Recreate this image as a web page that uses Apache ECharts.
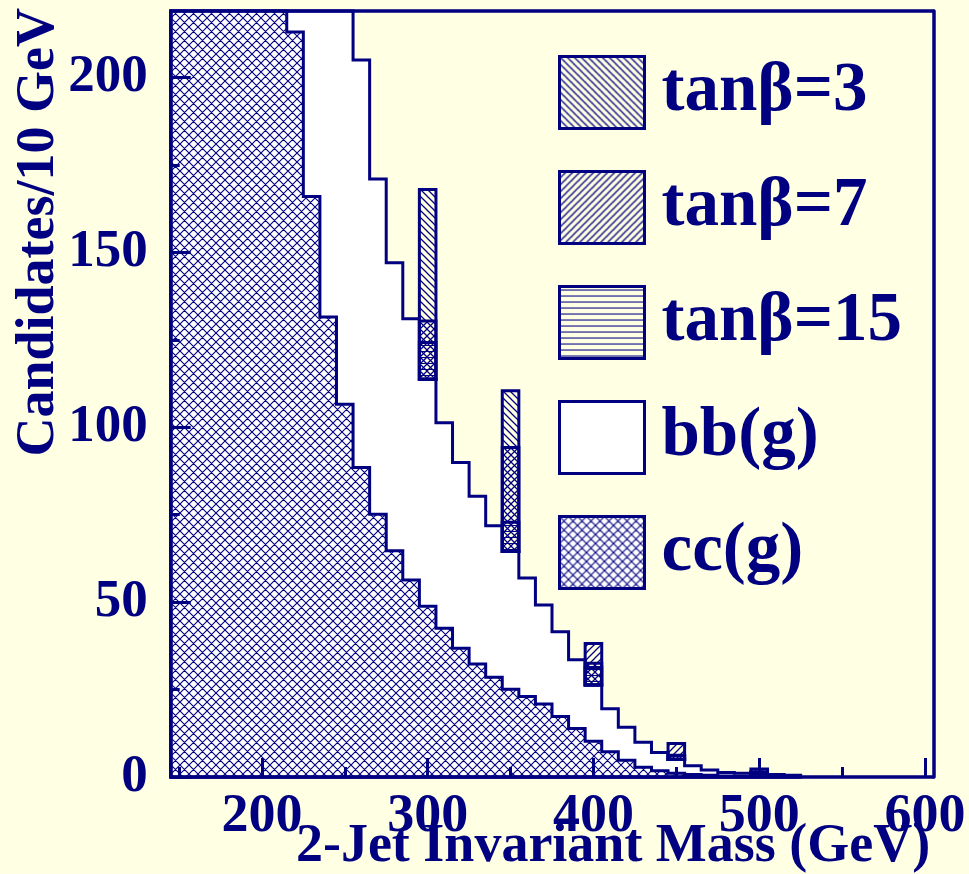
<!DOCTYPE html>
<html>
<head>
<meta charset="utf-8">
<script src="https://cdn.jsdelivr.net/npm/echarts@6/dist/echarts.min.js"></script>
<style>
html,body{margin:0;padding:0;background:#FFFFE4;}
#chart{width:969px;height:874px;}
</style>
</head>
<body>
<div id="chart"></div>
<script>
// ---------------- data ----------------
const binCenters = [150,160,170,180,190,200,210,220,230,240,250,260,270,280,290,300,310,320,330,340,350,360,370,380,390,400,410,420,430,440,450,460,470,480,490,500,510,520];
// cc(g) contribution per 10 GeV bin (values above the frame are off scale estimates)
const ccValues = [380,420,450,460,430,360,275,213,166,131.5,106.6,88.5,75.1,64.7,56.3,48.8,42.5,36.8,32.3,28.5,25.1,23.0,20.9,17.3,13.9,10.2,7.2,4.8,2.8,1.8,1.1,0.7,0.5,0.3,0.2,0.1,0.1,0.0];
// bb(g) contribution per bin (stacked on cc)
const bbValues = [500,520,520,500,460,420,360,290,240,185,150,116.5,95.9,82.3,74.7,64.9,58.8,53.1,48.0,43.3,39.4,33.9,28.3,24.2,19.6,16.1,12.3,9.4,7.1,5.2,3.9,2.5,1.5,1.0,0.9,0.9,0.6,0.5];
// signal peaks (stacked on bb+cc)
const signalMass = [300,350,400,450,500];
const tan3Values = [54.3,45.9,6.2,1.2,0.4];
const tan7Values = [16.7,29.7,11.9,4.6,1.3];
const tan15Values = [10.5,8.3,5.0,1.0,0.4];
const xMajorTicks = [200,300,400,500,600];
const xMinorTicks = [150,250,350,450,550];
const yMajorTicks = [0,50,100,150,200];
const yMinorTicks = [25,75,125,175];
const seriesNames = ['tanβ=3','tanβ=7','tanβ=15','bb(g)','cc(g)'];

// ---------------- styles ----------------
const NAVY = '#000080';
const BG = '#FFFFE4';
const X_MIN = 145, X_MAX = 605, Y_MIN = 0, Y_MAX = 219;
const binHalf = 5;

function makeTile(size, bg, lw, draw) {
  const c = document.createElement('canvas');
  c.width = size; c.height = size;
  const ctx = c.getContext('2d');
  if (bg) { ctx.fillStyle = bg; ctx.fillRect(0, 0, size, size); }
  ctx.strokeStyle = NAVY; ctx.lineWidth = lw;
  ctx.beginPath();
  draw(ctx, size);
  ctx.stroke();
  return c;
}
function fwd(ctx, s) { for (let k = 0; k <= 2; k++) { ctx.moveTo(-1, k * s + 1); ctx.lineTo(k * s + 1, -1); } }
function back(ctx, s) { for (let k = -1; k <= 1; k++) { ctx.moveTo(-1, -1 + k * s); ctx.lineTo(s + 1, s + 1 + k * s); } }
function horiz(ctx, s) { ctx.moveTo(0, s / 2 + 0.5); ctx.lineTo(s, s / 2 + 0.5); }
function pattern(canvas) { return { type: 'pattern', image: canvas, repeat: 'repeat' }; }

const patCC = pattern(makeTile(9, '#FFFFFF', 1.1, (ctx, s) => { fwd(ctx, s); back(ctx, s); }));
const pat3 = pattern(makeTile(7, null, 1.25, back));
const pat7 = pattern(makeTile(7, null, 1.25, fwd));
const pat15 = pattern(makeTile(6, null, 1, horiz));

const ccTop = ccValues.slice();
const totalTop = ccValues.map((v, i) => v + bbValues[i]);
function totalAt(m) { return totalTop[binCenters.indexOf(m)]; }

function histRender(tops, fill) {
  return function (params, api) {
    if (params.dataIndex !== 0) return;
    const pts = [api.coord([binCenters[0] - binHalf, 0])];
    for (let i = 0; i < binCenters.length; i++) {
      const v = Math.min(tops[i], Y_MAX);
      pts.push(api.coord([binCenters[i] - binHalf, v]));
      pts.push(api.coord([binCenters[i] + binHalf, v]));
    }
    pts.push(api.coord([binCenters[binCenters.length - 1] + binHalf, 0]));
    return { type: 'polygon', shape: { points: pts },
      style: { fill: fill, stroke: NAVY, lineWidth: 3, lineJoin: 'miter' } };
  };
}
function sigRender(vals, fill) {
  return function (params, api) {
    const i = params.dataIndex;
    const m = signalMass[i];
    const base = totalAt(m);
    const p0 = api.coord([m - binHalf, base]);
    const p1 = api.coord([m + binHalf, base + vals[i]]);
    return { type: 'rect',
      shape: { x: p0[0], y: p1[1], width: p1[0] - p0[0], height: p0[1] - p1[1] },
      style: { fill: fill, stroke: NAVY, lineWidth: 3 } };
  };
}

const tickFont = { fontFamily: 'Liberation Serif', fontWeight: 'bold', color: NAVY };

const option = {
  animation: false,
  backgroundColor: BG,
  grid: { left: 170.7, right: 35.7, top: 11, bottom: 96.5, containLabel: false },
  legend: {
    orient: 'vertical', left: 558, top: 55, padding: 0, itemWidth: 85, itemHeight: 72, itemGap: 40,
    icon: 'rect', selectedMode: false,
    itemStyle: { borderColor: NAVY, borderWidth: 3 },
    textStyle: { fontFamily: 'Liberation Serif', fontWeight: 'bold', fontSize: 69, color: NAVY,
      lineHeight: 72, height: 72, padding: [0, 0, 0, 12] },
    data: [
      { name: seriesNames[0], itemStyle: { color: pat3 } },
      { name: seriesNames[1], itemStyle: { color: pat7 } },
      { name: seriesNames[2], itemStyle: { color: pat15 } },
      { name: seriesNames[3], itemStyle: { color: '#FFFFFF' } },
      { name: seriesNames[4], itemStyle: { color: patCC } }
    ]
  },
  xAxis: [
    { type: 'value', min: X_MIN, max: X_MAX, position: 'bottom', z: 10,
      name: '2-Jet Invariant Mass (GeV)', nameLocation: 'end', nameGap: -3, nameMoveOverlap: false,
      nameTextStyle: Object.assign({ fontSize: 54, align: 'right', verticalAlign: 'top', padding: [43, 0, 0, 0] }, tickFont),
      axisLine: { show: true, onZero: false, lineStyle: { color: NAVY, width: 3.5 } },
      axisTick: { show: true, inside: true, length: 19, customValues: xMajorTicks, lineStyle: { color: NAVY, width: 3 } },
      axisLabel: Object.assign({ customValues: xMajorTicks, fontSize: 54, margin: 13 }, tickFont),
      splitLine: { show: false } },
    { type: 'value', min: X_MIN, max: X_MAX, position: 'bottom', z: 10,
      axisLine: { show: false },
      axisTick: { show: true, inside: true, length: 10, customValues: xMinorTicks, lineStyle: { color: NAVY, width: 3 } },
      axisLabel: { show: false }, splitLine: { show: false } },
    { type: 'value', min: X_MIN, max: X_MAX, position: 'top', z: 10,
      axisLine: { show: true, onZero: false, lineStyle: { color: NAVY, width: 3.5 } },
      axisTick: { show: false }, axisLabel: { show: false }, splitLine: { show: false } }
  ],
  yAxis: [
    { type: 'value', min: Y_MIN, max: Y_MAX, position: 'left', z: 10,
      name: 'Candidates/10 GeV', nameLocation: 'end', nameGap: 3, nameRotate: 90, nameMoveOverlap: false,
      nameTextStyle: Object.assign({ fontSize: 54, align: 'right', verticalAlign: 'bottom', padding: [0, 0, 105, 0] }, tickFont),
      axisLine: { show: true, onZero: false, lineStyle: { color: NAVY, width: 3.5 } },
      axisTick: { show: true, inside: true, length: 20, customValues: yMajorTicks, lineStyle: { color: NAVY, width: 3 } },
      axisLabel: Object.assign({ customValues: yMajorTicks, fontSize: 53, margin: 23 }, tickFont),
      splitLine: { show: false } },
    { type: 'value', min: Y_MIN, max: Y_MAX, position: 'left', z: 10,
      axisLine: { show: false },
      axisTick: { show: true, inside: true, length: 9, customValues: yMinorTicks, lineStyle: { color: NAVY, width: 3 } },
      axisLabel: { show: false }, splitLine: { show: false } },
    { type: 'value', min: Y_MIN, max: Y_MAX, position: 'right', z: 10,
      axisLine: { show: true, onZero: false, lineStyle: { color: NAVY, width: 3.5 } },
      axisTick: { show: false }, axisLabel: { show: false }, splitLine: { show: false } }
  ],
  series: [
    { name: seriesNames[3], type: 'custom', z: 2, xAxisIndex: 0, yAxisIndex: 0,
      itemStyle: { color: '#FFFFFF' },
      renderItem: histRender(totalTop, '#FFFFFF'),
      data: binCenters.map((c, i) => [c, totalTop[i]]) },
    { name: seriesNames[4], type: 'custom', z: 3, xAxisIndex: 0, yAxisIndex: 0,
      itemStyle: { color: patCC },
      renderItem: histRender(ccTop, patCC),
      data: binCenters.map((c, i) => [c, ccTop[i]]) },
    { name: seriesNames[0], type: 'custom', z: 4, xAxisIndex: 0, yAxisIndex: 0,
      itemStyle: { color: pat3 },
      renderItem: sigRender(tan3Values, pat3),
      data: signalMass.map((m, i) => [m, tan3Values[i]]) },
    { name: seriesNames[1], type: 'custom', z: 5, xAxisIndex: 0, yAxisIndex: 0,
      itemStyle: { color: pat7 },
      renderItem: sigRender(tan7Values, pat7),
      data: signalMass.map((m, i) => [m, tan7Values[i]]) },
    { name: seriesNames[2], type: 'custom', z: 6, xAxisIndex: 0, yAxisIndex: 0,
      itemStyle: { color: pat15 },
      renderItem: sigRender(tan15Values, pat15),
      data: signalMass.map((m, i) => [m, tan15Values[i]]) }
  ]
};

const chart = echarts.init(document.getElementById('chart'), null, { renderer: 'canvas' });
chart.setOption(option);
</script>
</body>
</html>
